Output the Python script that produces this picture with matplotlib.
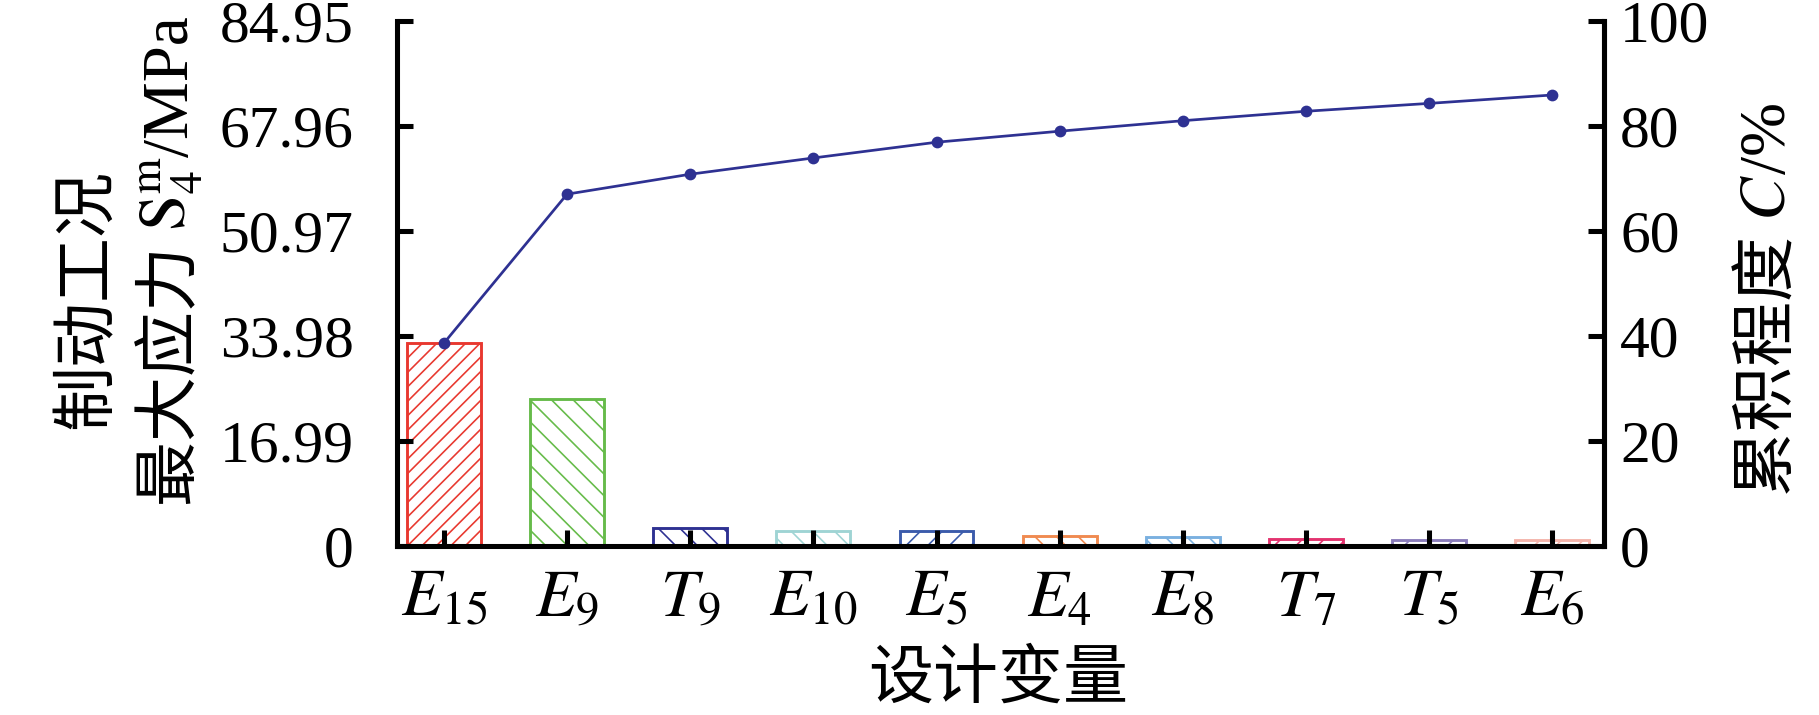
import matplotlib
matplotlib.use("Agg")
import matplotlib.pyplot as plt
import numpy as np

# data
names = [r"$E_{15}$", r"$E_{9}$", r"$T_{9}$", r"$E_{10}$", r"$E_{5}$",
         r"$E_{4}$", r"$E_{8}$", r"$T_{7}$", r"$T_{5}$", r"$E_{6}$"]
stress = [32.8, 23.8, 2.8, 2.3, 2.3, 1.6, 1.4, 1.1, 1.0, 0.9]
cumul = [38.6, 67.0, 70.8, 73.9, 76.9, 79.0, 81.0, 82.8, 84.3, 85.9]
left_ticks = [0, 16.99, 33.98, 50.97, 67.96, 84.95]
left_labels = ["0", "16.99", "33.98", "50.97", "67.96", "84.95"]
right_ticks = [0, 20, 40, 60, 80, 100]

colors = ['#e8382f', '#66bb4a', '#2e3192', '#9fd4d4', '#3b5bab',
          '#f08a50', '#7ab0e0', '#e3336f', '#8b7dbb', '#f4b4ab']
hatches = ['///', '\\\\', '\\\\', '\\\\', '//', '\\\\', '\\\\', '//', '//', '//']

plt.rcParams['mathtext.fontset'] = 'stix'
plt.rcParams['hatch.linewidth'] = 0.9
serif = ['Liberation Serif', 'Noto Sans CJK SC']
cjk = ['Noto Sans CJK SC', 'DejaVu Sans']

fig = plt.figure(figsize=(1819 / 130, 715 / 130), dpi=130)
ax = fig.add_axes([0.2183, 0.2368, 0.6635, 0.7338])
x = np.arange(len(names))

for i in range(len(names)):
    ax.bar(x[i], stress[i], width=0.6, facecolor='white', edgecolor=colors[i],
           hatch=hatches[i], linewidth=1.6, zorder=2)

ax.set_axisbelow(False)
ax.set_xlim(-0.38, 9.42)
ax.set_ylim(0, 84.95)
ax.set_yticks(left_ticks)
ax.set_yticklabels(left_labels, family=serif, fontsize=33)
ax.set_xticks(x)
ax.set_xticklabels(names, fontsize=37)
ax.tick_params(axis='y', direction='in', length=9, width=2.8, pad=24)
ax.tick_params(axis='x', direction='in', length=9, width=2.8, pad=10)
ax.spines['top'].set_visible(False)
for s in ['left', 'bottom', 'right']:
    ax.spines[s].set_linewidth(2.8)

ax2 = ax.twinx()
ax2.plot(x, cumul, color='#2e3192', lw=1.5, marker='o', markersize=5.5, zorder=5)
ax2.set_ylim(0, 100)
ax2.set_yticks(right_ticks)
ax2.set_yticklabels([str(t) for t in right_ticks], family=serif, fontsize=33)
ax2.tick_params(axis='y', direction='in', length=9, width=2.8, pad=9)
ax2.spines['top'].set_visible(False)
ax2.spines['right'].set_linewidth(2.8)


def vlabel(xc, yc, pieces, size=36):
    # rotated label built from pieces so CJK and math can mix
    r = fig.canvas.get_renderer()
    objs = []
    for txt, fam in pieces:
        t = fig.text(0, 0, txt, rotation=90, rotation_mode='anchor', ha='left',
                     va='center', family=fam, fontsize=size)
        objs.append(t)
    heights = [t.get_window_extent(r).height / fig.bbox.height for t in objs]
    y = yc - sum(heights) / 2
    for t, h in zip(objs, heights):
        t.set_position((xc, y))
        y += h


vlabel(87 / 1819, 1 - 299 / 715, [("制动工况", cjk)])
vlabel(172 / 1819, 1 - 261 / 715, [("最大应力 ", cjk),
                                   (r"$\mathrm{S}_4^{\mathrm{m}}$", serif),
                                   ("/MPa", serif)])
vlabel(1769 / 1819, 1 - 299 / 715, [("累积程度 ", cjk), (r"$C$", serif), ("/%", serif)])
fig.text(998 / 1819, 1 - 679 / 715, "设计变量", ha='center', va='center',
         family=cjk, fontsize=36)

fig.savefig("out.png", dpi=130)
